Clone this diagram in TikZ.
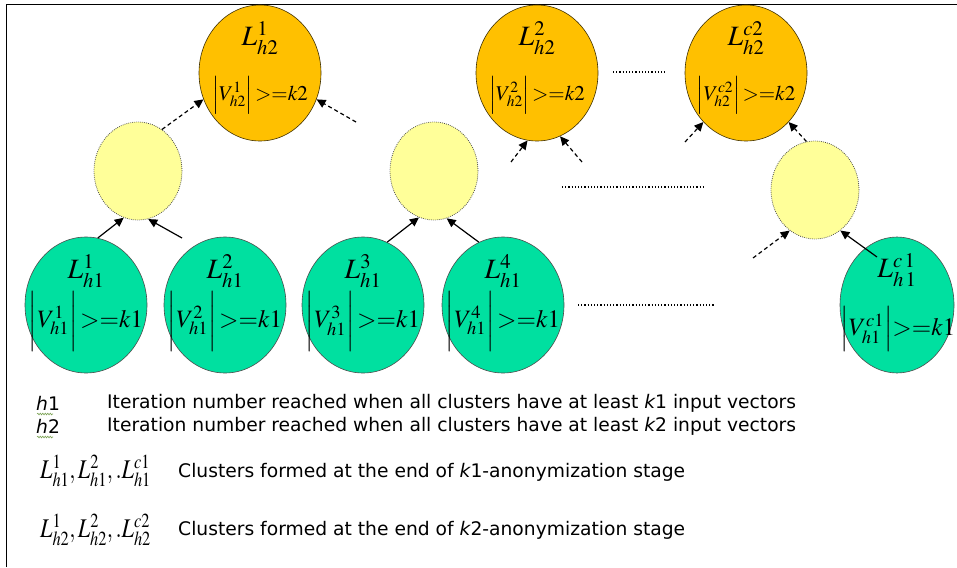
\documentclass[tikz,border=0pt]{standalone}
\usepackage{mathptmx}
\usepackage{fontspec}
\setmainfont{Liberation Serif}
\newfontfamily\legendfont{DejaVu Sans}
\usepackage{tikz}
\usetikzlibrary{shapes.geometric,arrows.meta,calc,decorations.pathmorphing}
\definecolor{clusterorange}{RGB}{255,192,0}
\definecolor{clustergreen}{RGB}{0,224,160}
\definecolor{mergeyellow}{RGB}{255,255,153}
\definecolor{squiggle}{RGB}{120,160,80}

\begin{document}
\begin{tikzpicture}[
    x=1pt, y=-1pt,
    >={Triangle[length=9pt,width=8.5pt]},
    cluster/.style={
        ellipse, line width=0.6pt, inner sep=0pt,
        minimum width=122pt, minimum height=136pt
    },
    h2node/.style={cluster, fill=clusterorange, draw=black!75!clusterorange},
    h1node/.style={cluster, fill=clustergreen, draw=black!70},
    mergenode/.style={
        ellipse, draw=black!70, line width=0.8pt,
        dash pattern=on 0.8pt off 1.2pt, fill=mergeyellow,
        minimum width=88pt, minimum height=98pt
    },
    ltext/.style={inner sep=0pt, font=\fontsize{28}{30}\selectfont},
    vtext/.style={inner sep=0pt, font=\fontsize{21}{23}\selectfont},
    vtextbig/.style={inner sep=0pt, font=\fontsize{25}{27}\selectfont},
    solidarrow/.style={->, line width=1.2pt},
    dashedarrow/.style={->, line width=1.2pt, dash pattern=on 4pt off 3pt},
    dotline/.style={line width=1.2pt, dash pattern=on 1.2pt off 2pt},
    legend/.style={anchor=west, inner sep=0pt, font=\legendfont\fontsize{18.7}{21}\selectfont},
    legendmath/.style={anchor=west, inner sep=0pt, font=\fontsize{27}{29}\selectfont}
]
\useasboundingbox (0,0) rectangle (957,567);

% frame
\draw[line width=1.5pt] (6.5,567) -- (6.5,4.5) -- (957,4.5);

% k2 clusters (top)
\foreach \nm/\px/\idx in {o1/260/1, o2/537/2, o3/746/c2} {
    \node[h2node] (\nm) at (\px,73) {};
    \node[ltext] (\nm L) at ($(\nm)+(0,-35)$) {$L^{\idx}_{h2}$};
    \node[vtext] (\nm V) at ($(\nm)+(0,22)$) {$\Bigl|V^{\idx}_{h2}\Bigr|\,{>}{=}k2$};
}

% merged clusters (middle)
\node[mergenode] (y1) at (138,171) {};
\node[mergenode] (y2) at (434,171) {};
\node[mergenode] (y3) at (815,190) {};

% k1 clusters (bottom)
\foreach \nm/\px/\idx in {g1/86/1, g2/225/2, g3/363/3, g4/503/4} {
    \node[h1node] (\nm) at (\px,305) {};
    \node[ltext] (\nm L) at ($(\nm)+(0,-34)$) {$L^{\idx}_{h1}$};
    \node[vtextbig] (\nm V) at ($(\nm)+(0,16)$) {$\biggl|V^{\idx}_{h1}\biggr|\,{>}{=}k1$};
}
\node[h1node, minimum width=114pt] (g5) at (897,305) {};
\node[ltext] (g5L) at ($(g5)+(0,-35)$) {$L^{c\,1}_{h\,1}$};
\node[vtextbig] (g5V) at ($(g5)+(1,24)$) {$\Bigl|V^{c1}_{h1}\Bigr|{>}{=}k1$};

% free arrow ends
\coordinate (t2) at (182,238);
\coordinate (t4) at (356,122);
\coordinate (t7) at (511,162);
\coordinate (t8) at (582,162);
\coordinate (t9) at (685,142);
\coordinate (t11) at (753,258);
\coordinate (t12) at (877,257);

% arrows
\draw[solidarrow] (g1.80) -- (y1.253);
\draw[solidarrow] (t2) -- (y1.282);
\draw[solidarrow] (g3.69) -- (y2.252);
\draw[solidarrow] (g4.111) -- (y2.285);
\draw[solidarrow] (t12) -- (y3.302);
\draw[dashedarrow] (y1.60) -- (o1.205);
\draw[dashedarrow] (t4) -- (o1.335);
\draw[dashedarrow] (t7) -- (o2.262);
\draw[dashedarrow] (t8) -- (o2.290);
\draw[dashedarrow] (t9) -- (o3.229);
\draw[dashedarrow] (y3.100) -- (o3.311);
\draw[dashedarrow] (t11) -- (y3.238);

% dotted gaps
\draw[dotline] (613,72) -- (667,72);
\draw[dotline] (562,187) -- (703,187);
\draw[dotline] (578,305) -- (715,305);

% legend
\node[legend] (h1sym) at (36,403) {{\itshape h}1};
\node[legend] (h1txt) at (107,403) {Iteration number reached when all clusters have at least {\itshape k}1 input vectors};
\node[legend] (h2sym) at (36,426) {{\itshape h}2};
\node[legend] (h2txt) at (107,426) {Iteration number reached when all clusters have at least {\itshape k}2 input vectors};
\draw[squiggle, line width=0.6pt, decorate, decoration={snake, amplitude=0.8pt, segment length=2.5pt}] (37,414) -- (53,414);
\draw[squiggle, line width=0.6pt, decorate, decoration={snake, amplitude=0.8pt, segment length=2.5pt}] (37,437) -- (53,437);
\node[legendmath] (l1sym) at (40,471) {\scalebox{0.82}[1]{$L^{1}_{h1},L^{2}_{h1},.L^{c1}_{h1}$}};
\node[legend] (l1txt) at (178,472) {Clusters formed at the end of {\itshape k}1-anonymization stage};
\node[legendmath] (l2sym) at (40,530) {\scalebox{0.82}[1]{$L^{1}_{h2},L^{2}_{h2},.L^{c2}_{h2}$}};
\node[legend] (l2txt) at (178,530) {Clusters formed at the end of {\itshape k}2-anonymization stage};
\end{tikzpicture}
\end{document}
